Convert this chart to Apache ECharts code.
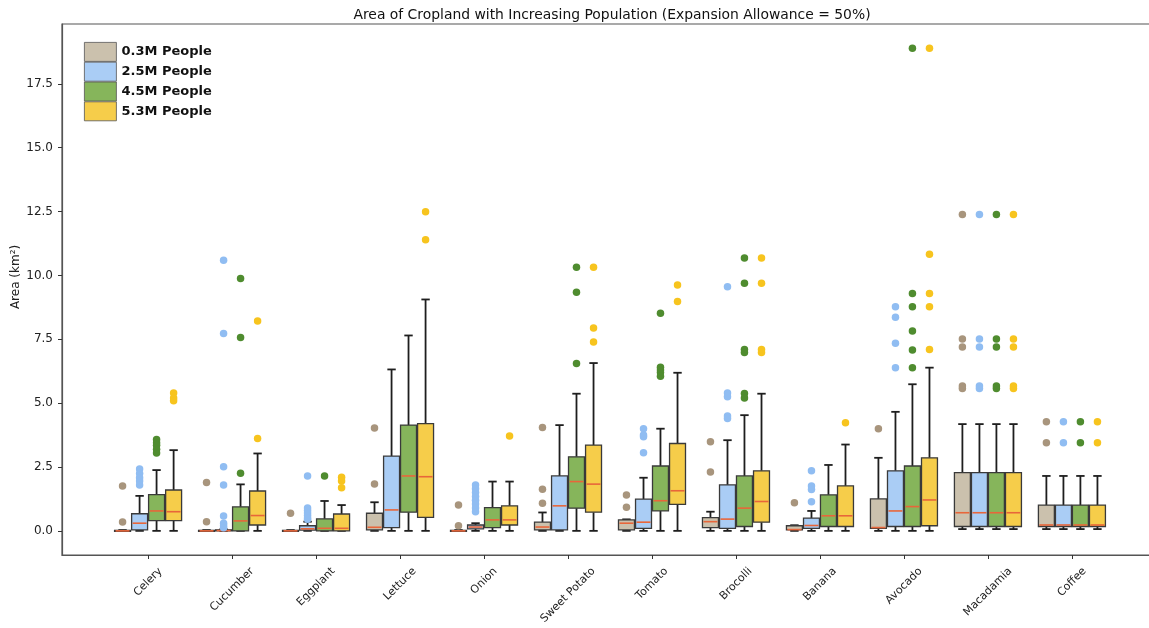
<!DOCTYPE html>
<html>
<head>
<meta charset="utf-8">
<script src="https://cdn.jsdelivr.net/npm/echarts@6/dist/echarts.min.js"></script>
<style>html,body{margin:0;padding:0;background:#fff;}#chart{width:1149px;height:628px;}</style>
</head>
<body>
<div id="chart"></div>
<script>
const categories = ['Celery','Cucumber','Eggplant','Lettuce','Onion','Sweet Potato','Tomato','Brocolli','Banana','Avocado','Macadamia','Coffee'];
const seriesNames = ['0.3M People','2.5M People','4.5M People','5.3M People'];
const yTicks = [0, 2.5, 5, 7.5, 10, 12.5, 15, 17.5];

// each row: [lower whisker, Q1, median, Q3, upper whisker]
const stats03 = [
  [0,0,0,0.02,0.03],[0,0,0,0.02,0.03],[0,0,0,0.02,0.03],[0,0.04,0.14,0.69,1.12],
  [0,0,0,0.02,0.03],[0,0.04,0.15,0.34,0.72],[0,0.04,0.3,0.43,0.45],[0,0.13,0.36,0.52,0.75],
  [0,0.04,0.05,0.2,0.22],[0,0.1,0.13,1.25,2.86],[0.07,0.17,0.71,2.28,4.18],[0.07,0.17,0.23,1.01,2.15]
];
const stats25 = [
  [0,0.04,0.3,0.67,1.37],[0,0,0.01,0.04,0.06],[0,0.03,0.08,0.2,0.36],[0,0.13,0.82,2.93,6.32],
  [0,0.08,0.15,0.23,0.3],[0,0.04,0.98,2.15,4.14],[0,0.1,0.34,1.24,2.08],[0,0.1,0.46,1.8,3.55],
  [0,0.1,0.21,0.5,0.78],[0,0.17,0.78,2.35,4.66],[0.07,0.17,0.71,2.28,4.18],[0.07,0.17,0.23,1.01,2.15]
];
const stats45 = [
  [0,0.4,0.78,1.42,2.38],[0,0,0.39,0.94,1.82],[0,0,0.1,0.47,1.17],[0,0.73,2.15,4.14,7.65],
  [0,0.13,0.43,0.91,1.93],[0,0.89,1.93,2.9,5.37],[0,0.78,1.18,2.54,4.0],[0,0.17,0.89,2.15,4.53],
  [0,0.17,0.59,1.41,2.58],[0,0.17,0.95,2.54,5.74],[0.07,0.17,0.71,2.28,4.18],[0.07,0.17,0.23,1.01,2.15]
];
const stats53 = [
  [0,0.4,0.75,1.6,3.16],[0,0.23,0.6,1.56,3.03],[0,0,0.1,0.66,1.01],[0,0.53,2.12,4.2,9.06],
  [0,0.23,0.43,0.98,1.93],[0,0.73,1.83,3.36,6.57],[0,1.04,1.57,3.42,6.19],[0,0.34,1.15,2.35,5.37],
  [0,0.17,0.59,1.76,3.38],[0,0.2,1.21,2.86,6.39],[0.07,0.17,0.71,2.28,4.18],[0.07,0.17,0.23,1.01,2.15]
];

// outliers per category
const out03 = [[1.76,0.35],[1.89,0.36],[0.69],[4.03,1.83],[1.01,0.2],[4.05,1.63,1.08],[1.4,0.92],[3.49,2.3],[1.1],[4.0],[12.39,7.51,7.2,5.67,5.57],[4.27,3.45]];
const out25 = [[2.42,2.25,2.08,1.95,1.8],[10.6,7.73,2.51,1.8,0.58,0.3,0.2,0.12],[2.15,0.9,0.8,0.7,0.6,0.5,0.45],[],[1.8,1.65,1.5,1.35,1.2,1.05,0.9,0.75],[],[4.0,3.75,3.68,3.06],[9.56,5.4,5.25,4.5,4.4],[2.35,1.76,1.62,1.14],[8.77,8.36,7.35,6.39],[12.39,7.51,7.2,5.67,5.57],[4.27,3.45]];
const out45 = [[3.58,3.45,3.35,3.2,3.05],[9.88,7.57,2.26],[2.15],[],[],[10.32,9.34,6.55],[8.52,6.41,6.3,6.2,6.05],[10.68,9.69,7.1,6.98,5.38,5.2],[],[18.9,9.29,8.77,7.83,7.08,6.39],[12.39,7.51,7.2,5.67,5.57],[4.27,3.45]];
const out53 = [[5.4,5.2,5.09],[8.22,3.62],[2.1,1.95,1.69],[12.49,11.4],[3.71],[10.32,7.94,7.39],[9.63,8.98],[10.68,9.69,7.1,6.98],[4.23],[18.9,10.83,9.29,8.77,7.1],[12.39,7.51,7.2,5.67,5.57],[4.27,3.45]];

const allStats = [stats03, stats25, stats45, stats53];
const allOut = [out03, out25, out45, out53];
const fillColors = ['#cbc1ad', '#aacdf5', '#86b55b', '#f6cd4a'];
const dotColors = ['#a8957d', '#90bdf2', '#4f8c2f', '#f7c41e'];
const offsets = [-0.304, -0.101, 0.101, 0.304];
const boxW = 0.19, capW = 0.1;

const FONT = 'DejaVu Sans';
const gridLeft = 62, gridTop = 24, gridWidth = 1096, gridHeight = 531;
const xMin = -1.025, xMax = 12.025;
const pxPerUnit = gridWidth / (xMax - xMin);

// emulate matplotlib's centred rotated tick labels
const xLabelSize = 11;
const ctx = document.createElement('canvas').getContext('2d');
ctx.font = xLabelSize + 'px "' + FONT + '"';
const labelPos = categories.map((c, i) => i + 0.3536 * ctx.measureText(c).width / pxPerUnit);

function renderBox(params, api) {
  const x = api.value(0);
  const lo = api.coord([x, api.value(1)]);
  const q1 = api.coord([x, api.value(2)]);
  const md = api.coord([x, api.value(3)]);
  const q3 = api.coord([x, api.value(4)]);
  const hi = api.coord([x, api.value(5)]);
  const hw = api.size([boxW, 0])[0] / 2;
  const cw = api.size([capW, 0])[0] / 2;
  const cx = lo[0];
  const fill = fillColors[params.seriesIndex];
  const wStyle = { stroke: '#1e1e1e', lineWidth: 1.8 };
  return {
    type: 'group',
    children: [
      { type: 'line', shape: { x1: cx, y1: q3[1], x2: cx, y2: hi[1] }, style: wStyle },
      { type: 'line', shape: { x1: cx, y1: q1[1], x2: cx, y2: lo[1] }, style: wStyle },
      { type: 'line', shape: { x1: cx - cw, y1: hi[1], x2: cx + cw, y2: hi[1] }, style: wStyle },
      { type: 'line', shape: { x1: cx - cw, y1: lo[1], x2: cx + cw, y2: lo[1] }, style: wStyle },
      { type: 'rect', shape: { x: cx - hw, y: q3[1], width: hw * 2, height: Math.max(q1[1] - q3[1], 1) },
        style: { fill: fill, stroke: '#3a3a3a', lineWidth: 1.3 } },
      { type: 'line', shape: { x1: cx - hw + 1, y1: md[1], x2: cx + hw - 1, y2: md[1] },
        style: { stroke: '#e8663a', lineWidth: 1.6 } }
    ]
  };
}

const series = [];
allStats.forEach((st, s) => {
  series.push({
    type: 'custom', name: seriesNames[s], renderItem: renderBox,
    itemStyle: { color: fillColors[s] },
    encode: { x: 0, y: [1, 2, 3, 4, 5] },
    data: st.map((r, i) => [i + offsets[s]].concat(r)),
    z: 2
  });
});
allOut.forEach((ot, s) => {
  const pts = [];
  ot.forEach((arr, i) => arr.forEach(v => pts.push([i + offsets[s], v])));
  series.push({
    type: 'scatter', name: seriesNames[s], data: pts, symbolSize: 7.5,
    itemStyle: { color: dotColors[s], opacity: 1 }, z: 3
  });
});

const chart = echarts.init(document.getElementById('chart'), null, { renderer: 'canvas' });
chart.setOption({
  animation: false,
  backgroundColor: '#fff',
  textStyle: { fontFamily: FONT },
  title: {
    text: 'Area of Cropland with Increasing Population (Expansion Allowance = 50%)',
    left: gridLeft + gridWidth / 2 - 3, textAlign: 'center', top: 3,
    textStyle: { fontFamily: FONT, fontSize: 13.9, fontWeight: 'normal', color: '#111' }
  },
  legend: {
    orient: 'vertical', left: 84, top: 42, padding: 0, itemGap: 0, itemWidth: 32, itemHeight: 19,
    icon: 'rect', data: seriesNames,
    itemStyle: { borderColor: '#555', borderWidth: 0.8 },
    textStyle: { fontFamily: FONT, fontSize: 13, fontWeight: 'bold', color: '#111' }
  },
  grid: { left: gridLeft, top: gridTop, width: gridWidth, height: gridHeight, show: true,
    borderColor: '#555', borderWidth: 1.2, containLabel: false, outerBoundsMode: 'none' },
  xAxis: {
    type: 'value', min: xMin, max: xMax,
    axisLine: { show: true, onZero: false, lineStyle: { color: '#555', width: 1.2 } },
    axisTick: { show: true, length: 4, customValues: categories.map((c, i) => i), lineStyle: { color: '#333' } },
    axisLabel: {
      customValues: labelPos, rotate: 45, margin: 14.5, fontSize: xLabelSize, color: '#222', fontFamily: FONT,
      formatter: v => {
        let best = 0, bd = 1e9;
        labelPos.forEach((p, i) => { const d = Math.abs(p - v); if (d < bd) { bd = d; best = i; } });
        return categories[best];
      }
    },
    splitLine: { show: false }
  },
  yAxis: {
    type: 'value', min: -0.945, max: 19.845,
    name: 'Area (km²)', nameLocation: 'middle', nameGap: 40, nameRotate: 90, nameMoveOverlap: false,
    nameTextStyle: { fontFamily: FONT, fontSize: 12, color: '#222', padding: [0, 0, 0, 25] },
    axisLine: { show: true, onZero: false, lineStyle: { color: '#555', width: 1.2 } },
    axisTick: { show: true, length: 4, customValues: yTicks, lineStyle: { color: '#333' } },
    axisLabel: { customValues: yTicks, fontSize: 12, color: '#222', fontFamily: FONT, margin: 9, formatter: v => v.toFixed(1) },
    splitLine: { show: false }
  },
  series: series
});
</script>
</body>
</html>
